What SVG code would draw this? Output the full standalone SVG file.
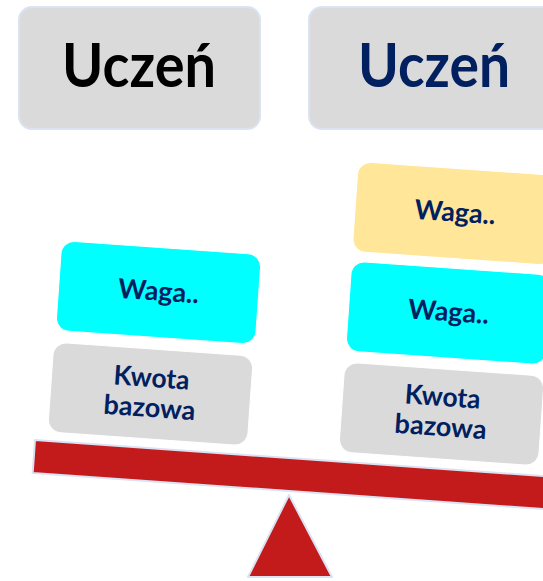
<svg xmlns="http://www.w3.org/2000/svg" width="543" height="581" viewBox="0 0 543 581">
<style>
.top{fill:#dadada;stroke:#dae3f3;stroke-width:2}
.tbox{stroke:#ffffff;stroke-width:1}
.gray{fill:#dadada}
.cyan{fill:#00ffff}
.yel{fill:#ffe699}
.big{font-family:Lato,"Open Sans","Liberation Sans",sans-serif;font-weight:bold;font-size:61px;text-anchor:middle}
.sm{font-family:Lato,"Open Sans","Liberation Sans",sans-serif;font-weight:bold;font-size:27px;fill:#002060;text-anchor:middle}
.red{fill:#c31a1b;stroke:#dae3f3;stroke-width:2;stroke-linejoin:round}
</style>
<rect width="543" height="581" fill="#ffffff"/>
<g id="uczen-left">
<rect class="top" x="19" y="7" width="241" height="122" rx="13"/>
<text class="big" x="139" y="87" fill="#000000" textLength="154" lengthAdjust="spacingAndGlyphs">Uczeń</text>
</g>
<g id="uczen-right">
<rect class="top" x="309" y="7" width="260" height="122" rx="13"/>
<text class="big" x="434" y="87" fill="#002060" textLength="152" lengthAdjust="spacingAndGlyphs">Uczeń</text>
</g>
<g id="beam">
<polygon class="red" points="35,440 560,477.2 557.7,510.1 32.7,472.9"/>
</g>
<g id="fulcrum">
<polygon class="red" points="289,495 332,577 248,577"/>
</g>
<g id="left-waga" transform="translate(158.5,292.5) rotate(4)">
<rect class="tbox cyan" x="-100" y="-45" width="200" height="90" rx="13"/>
<text class="sm" x="0" y="8" textLength="81" lengthAdjust="spacingAndGlyphs">Waga..</text>
</g>
<g id="left-kwota" transform="translate(150.5,394) rotate(4)">
<rect class="tbox gray" x="-100" y="-45" width="200" height="90" rx="13"/>
<text class="sm" x="0" y="-7" textLength="76" lengthAdjust="spacingAndGlyphs">Kwota</text>
<text class="sm" x="0" y="23" textLength="92" lengthAdjust="spacingAndGlyphs">bazowa</text>
</g>
<g id="right-waga-yellow" transform="translate(455,213.5) rotate(4)">
<rect class="tbox yel" x="-100" y="-45" width="200" height="90" rx="13"/>
<text class="sm" x="0" y="8" textLength="81" lengthAdjust="spacingAndGlyphs">Waga..</text>
</g>
<g id="right-waga-cyan" transform="translate(448.5,313) rotate(4)">
<rect class="tbox cyan" x="-100" y="-45" width="200" height="90" rx="13"/>
<text class="sm" x="0" y="8" textLength="81" lengthAdjust="spacingAndGlyphs">Waga..</text>
</g>
<g id="right-kwota" transform="translate(441.5,414) rotate(4)">
<rect class="tbox gray" x="-100" y="-45" width="200" height="90" rx="13"/>
<text class="sm" x="0" y="-8" textLength="76" lengthAdjust="spacingAndGlyphs">Kwota</text>
<text class="sm" x="0" y="22" textLength="92" lengthAdjust="spacingAndGlyphs">bazowa</text>
</g>
<g id="connectors"></g>
</svg>
